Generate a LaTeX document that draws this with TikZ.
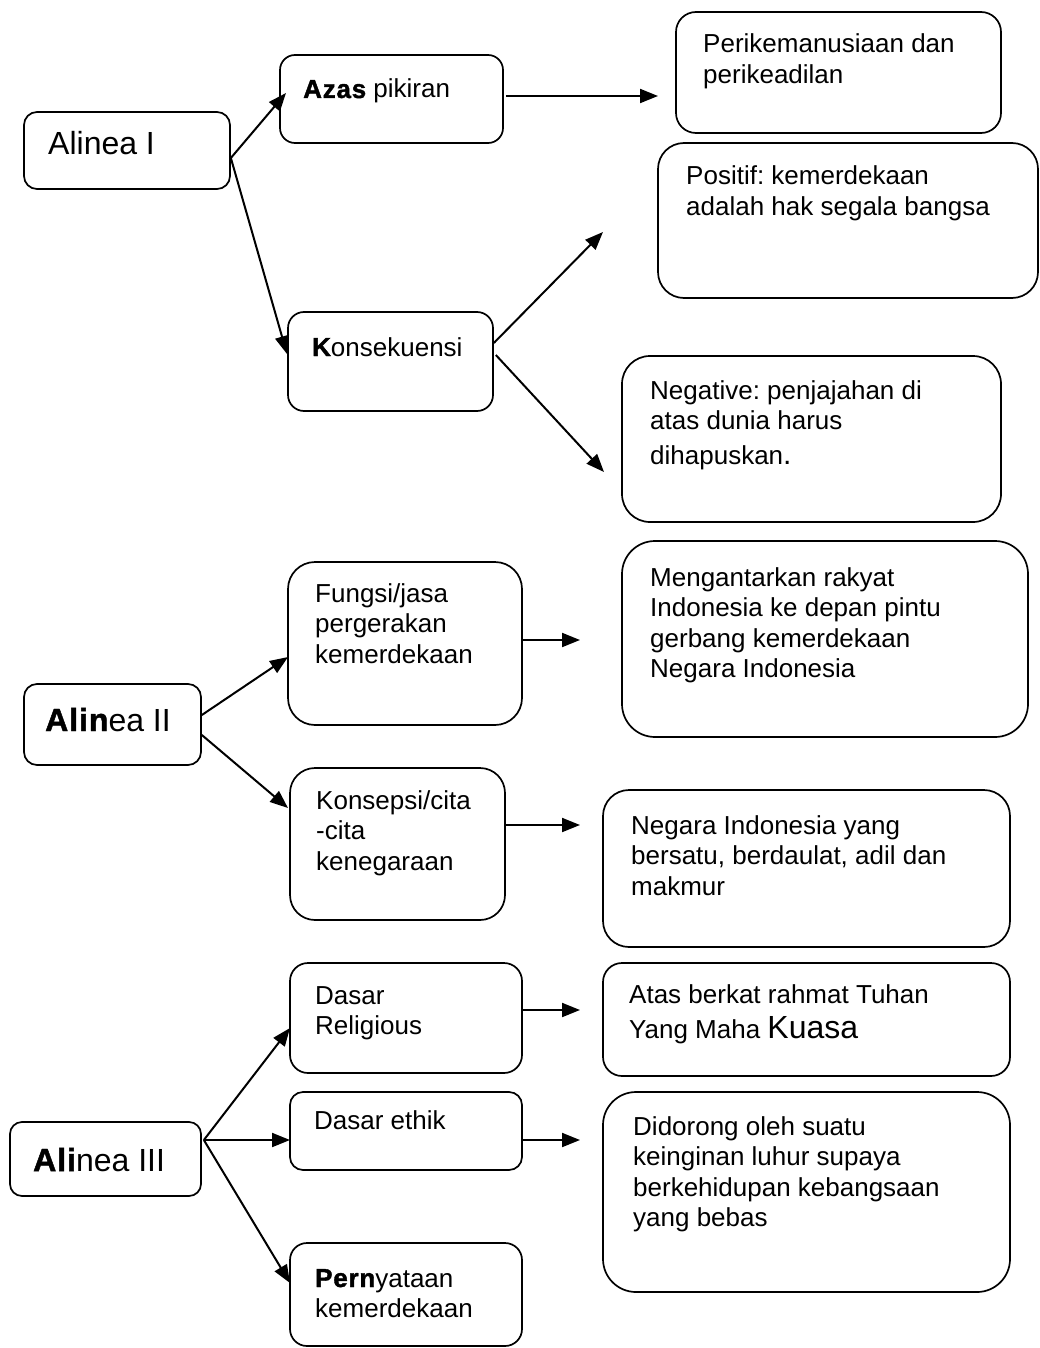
\documentclass[tikz,border=0pt]{standalone}
\usepackage{fontspec}
\setmainfont{Liberation Sans}
\newfontfamily\heavy{Liberation Sans Bold}[FakeBold=1.5,LetterSpace=3]
\usetikzlibrary{arrows.meta}
\frenchspacing

% rounded box from corner (x1,y1) to (x2,y2) with corner radius r
\newcommand\panel[6]{%
  \node[card, rounded corners=#6pt, minimum width={#4-#2}, minimum height={#5-#3}]
    (#1) at ({(#2+#4)/2},{(#3+#5)/2}) {};}

\begin{document}
\begin{tikzpicture}[x=1pt,y=-1pt,
  card/.style={draw, line width=1.7pt, inner sep=0pt},
  % texts are placed by the baseline of their last line
  txt/.style={inner sep=0pt, anchor=base west, align=left,
              font=\fontsize{26}{30.5}\selectfont},
  big/.style={txt, font=\fontsize{32}{38}\selectfont},
  link/.style={line width=2pt, -{Triangle[length=18pt,width=14pt]}},
]
\useasboundingbox[fill=white] (0,0) rectangle (1040,1348);

% ---------- Alinea I ----------
\panel{a1}{24}{112}{230}{189}{13}
\panel{azas}{280}{55}{503}{143}{15}
\panel{kons}{288}{312}{493}{411}{16}
\panel{peri}{676}{12}{1001}{133}{20}
\panel{posi}{658}{143}{1038}{298}{26}
\panel{nega}{622}{356}{1001}{522}{28}

\node[big] (a1t) at (48,155) {Alinea I};
\node[txt] (azast) at (303,98) {{\heavy Azas} pikiran};
\node[txt] (konst) at (312,356) {{\heavy K}onsekuensi};
\node[txt] (perit) at (703,83.5) {Perikemanusiaan dan\\perikeadilan};
\node[txt] (posit) at (686,215.5) {Positif: kemerdekaan\\adalah hak segala bangsa};
\node[txt] (negat) at (650,464) {Negative: penjajahan di\\atas dunia harus\\[4pt]dihapuskan{\fontsize{30}{30}\selectfont.}};

\coordinate (azasTip) at (286,93);
\coordinate (konsTip) at (287,354);
\coordinate (periTip) at (658,96);
\coordinate (posiTip) at (603,232);
\coordinate (negaTip) at (604,472);

\draw[link] ([yshift=-7.5pt]a1.east) -- (azasTip);
\draw[link] ([yshift=-7.5pt]a1.east) -- (konsTip);
\draw[link] ([xshift=2pt,yshift=3pt]azas.east) -- (periTip);
\draw[link] ([yshift=18.5pt]kons.east) -- (posiTip);
\draw[link] ([xshift=2pt,yshift=6.5pt]kons.east) -- (negaTip);

% ---------- Alinea II ----------
\panel{a2}{24}{684}{201}{765}{13}
\panel{fung}{288}{562}{522}{725}{27}
\panel{konp}{290}{768}{505}{920}{25}
\panel{meng}{622}{541}{1028}{737}{33}
\panel{negr}{603}{790}{1010}{947}{26}

\node[big] (a2t) at (45,731) {{\heavy Alin}ea II};
\node[txt] (fungt) at (315,663) {Fungsi/jasa\\pergerakan\\kemerdekaan};
\node[txt] (konpt) at (316,870) {Konsepsi/cita\\-cita\\kenegaraan};
\node[txt] (mengt) at (650,677.5) {Mengantarkan rakyat\\Indonesia ke depan pintu\\gerbang kemerdekaan\\Negara Indonesia};
\node[txt] (negrt) at (631,895) {Negara Indonesia yang\\bersatu, berdaulat, adil dan\\makmur};

\coordinate (fungTip) at (288,657);
\coordinate (konpTip) at (288,808);
\coordinate (mengTip) at (580,640);
\coordinate (negrTip) at (580,825);

\draw[link] ([yshift=9.5pt]a2.east) -- (fungTip);
\draw[link] ([yshift=-10.5pt]a2.east) -- (konpTip);
\draw[link] ([yshift=3.5pt]fung.east) -- (mengTip);
\draw[link] ([yshift=19pt]konp.east) -- (negrTip);

% ---------- Alinea III ----------
\panel{a3}{10}{1122}{201}{1196}{12}
\panel{dr}{290}{963}{522}{1073}{18}
\panel{de}{290}{1092}{522}{1170}{13}
\panel{pern}{290}{1243}{522}{1346}{17}
\panel{atas}{603}{963}{1010}{1076}{19}
\panel{dido}{603}{1092}{1010}{1292}{33}

\node[big] (a3t) at (33,1171) {{\heavy Ali}nea III};
\node[txt] (drt) at (315,1034.5) {Dasar\\Religious};
\node[txt] (det) at (314,1129) {Dasar ethik};
\node[txt] (pernt) at (315,1317.5) {{\heavy Pern}yataan\\kemerdekaan};
\node[txt] (atast) at (629,1038) {Atas berkat rahmat Tuhan\\[4.5pt]Yang Maha {\fontsize{32}{32}\selectfont Kuasa}};
\node[txt] (didot) at (633,1226.5) {Didorong oleh suatu\\keinginan luhur supaya\\berkehidupan kebangsaan\\yang bebas};

\coordinate (drTip) at (290,1028);
\coordinate (deTip) at (290,1140);
\coordinate (pernTip) at (290,1283);
\coordinate (atasTip) at (580,1010);
\coordinate (didoTip) at (580,1140);

\draw[link] ([xshift=2pt,yshift=19pt]a3.east) -- (drTip);
\draw[link] ([xshift=2pt,yshift=19pt]a3.east) -- (deTip);
\draw[link] ([xshift=2pt,yshift=19pt]a3.east) -- (pernTip);
\draw[link] ([yshift=8pt]dr.east) -- (atasTip);
\draw[link] ([yshift=-9pt]de.east) -- (didoTip);
\end{tikzpicture}
\end{document}
